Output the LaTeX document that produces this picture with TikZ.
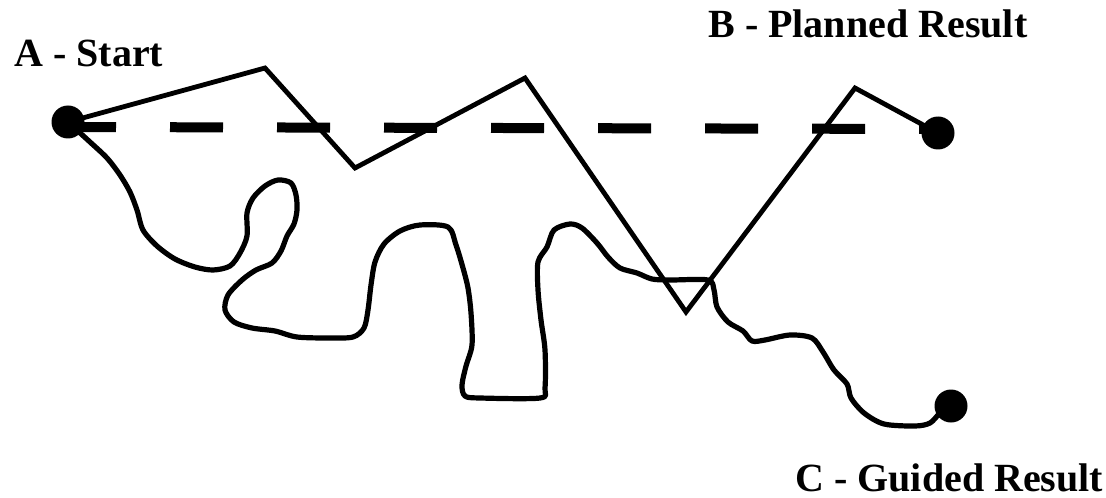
\documentclass[tikz,border=0pt]{standalone}
\usepackage{fontspec}
\setmainfont{Liberation Serif}
\begin{document}
\begin{tikzpicture}[x=0.5pt,y=-0.5pt,
  dot/.style={circle,fill=black,inner sep=0pt,minimum size=16.5pt},
  planned/.style={line width=5pt,dash pattern=on 26.5pt off 27pt,dash phase=2pt},
  actual/.style={line width=2.4pt,line join=miter},
  guided/.style={line width=2.6pt,line join=round,line cap=round},
  lbl/.style={font=\bfseries\fontsize{20pt}{24pt}\selectfont,inner sep=0pt}]
\useasboundingbox (0,0) rectangle (1106,497);
% end points
\coordinate (Ap) at (68,122);
\coordinate (Bp) at (938,133);
\coordinate (Cp) at (951,406);
% planned (dashed) line
\coordinate (Ad) at (67,127);
\coordinate (Bd) at (938,129);
\draw[planned] (Ad) -- (Bd);
% actual zigzag
\coordinate (z1) at (265,68);
\coordinate (z2) at (355,168);
\coordinate (z3) at (525,78);
\coordinate (z4) at (686,312);
\coordinate (z5) at (855,88);
\draw[actual] (Ap) -- (z1) -- (z2) -- (z3) -- (z4) -- (z5) -- (Bp);
% guided wiggly path
\draw[guided] plot[smooth,tension=0.5] coordinates {
 (Ap) (90,142) (107,158) (120,175) (130,192) (137,210) (143,230) (157,246)
 (175,259) (195,267) (213,270) (230,266) (240,253) (247,236) (247,213)
 (253,198) (265,186) (278,180) (291,183) (296,195) (297,210) (294,224)
 (287,236) (281,251) (272,263) (256,270) (242,280) (228,295) (225,310)
 (234,322) (252,328) (275,331) (297,337) (330,338) (353,337) (364,328)
 (368,310) (371,285) (375,262) (384,244) (400,231) (420,225) (448,227)
 (456,245) (463,268) (468,288) (471,313) (472,345) (466,366) (462,385)
 (465,396) (480,398) (540,398) (545,388) (545,350) (541,320) (538,290)
 (538,262) (547,247) (554,230) (570,224) (582,228) (597,243) (608,257)
 (620,268) (637,273) (652,279) (670,280) (708,280) (714,290) (717,307)
 (728,322) (743,331) (752,341) (765,340) (790,335) (812,338) (823,352)
 (834,370) (847,384) (851,398) (864,413) (884,424) (915,426) (930,423)
 (940,413) (Cp)};
% dots
\node[dot] (A) at (Ap) {};
\node[dot] (B) at (Bp) {};
\node[dot] (C) at (Cp) {};
% labels
\node[lbl,anchor=base west] (LA) at (14,67) {A - Start};
\node[lbl,anchor=base west] (LB) at (708,38) {B - Planned Result};
\node[lbl,anchor=base west] (LC) at (795,491) {C - Guided Result};
\end{tikzpicture}
\end{document}
